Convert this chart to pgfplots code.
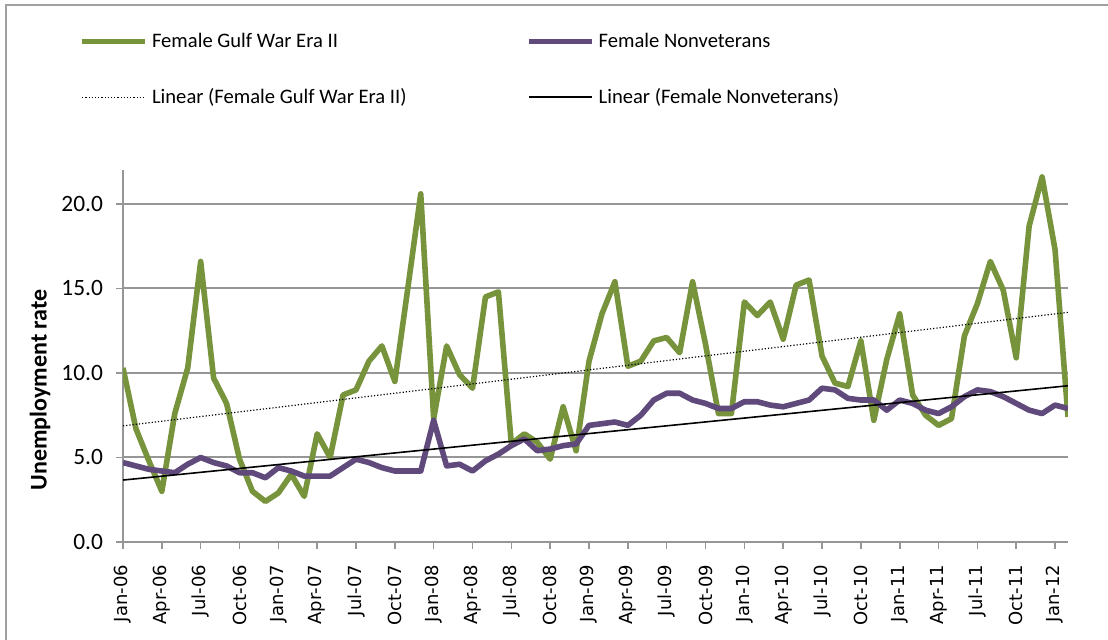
\documentclass[border=0pt]{standalone}
\usepackage{fontspec}
\setmainfont{Carlito}
\newfontfamily\dejavu{DejaVu Sans}
\usepackage{pgfplots}
\usepackage{pgfplotstable}
\pgfplotsset{compat=1.18}
\definecolor{gwgreen}{RGB}{119,147,60}
\definecolor{nvpurple}{RGB}{96,74,123}
\definecolor{axgray}{RGB}{150,150,150}
\definecolor{bordergray}{RGB}{160,160,160}

\pgfplotstableread{
i gw nv
0 10.3 4.7
1 6.7 4.5
2 4.8 4.3
3 3.0 4.2
4 7.6 4.1
5 10.3 4.6
6 16.6 5.0
7 9.7 4.7
8 8.2 4.5
9 4.9 4.1
10 3.0 4.1
11 2.4 3.8
12 2.9 4.4
13 4.0 4.2
14 2.7 3.9
15 6.4 3.9
16 5.0 3.9
17 8.7 4.4
18 9.0 4.9
19 10.7 4.7
20 11.6 4.4
21 9.5 4.2
22 15.0 4.2
23 20.6 4.2
24 7.3 7.2
25 11.6 4.5
26 9.9 4.6
27 9.1 4.2
28 14.5 4.8
29 14.8 5.2
30 5.8 5.7
31 6.4 6.1
32 5.9 5.4
33 4.9 5.5
34 8.0 5.7
35 5.4 5.8
36 10.7 6.9
37 13.5 7.0
38 15.4 7.1
39 10.4 6.9
40 10.7 7.5
41 11.9 8.4
42 12.1 8.8
43 11.2 8.8
44 15.4 8.4
45 11.7 8.2
46 7.6 7.9
47 7.6 7.9
48 14.2 8.3
49 13.4 8.3
50 14.2 8.1
51 12.0 8.0
52 15.2 8.2
53 15.5 8.4
54 11.0 9.1
55 9.4 9.0
56 9.2 8.5
57 11.9 8.4
58 7.2 8.4
59 10.8 7.8
60 13.5 8.4
61 8.7 8.2
62 7.5 7.8
63 6.9 7.6
64 7.3 8.0
65 12.2 8.6
66 14.1 9.0
67 16.6 8.9
68 14.9 8.6
69 10.9 8.2
70 18.7 7.8
71 21.6 7.6
72 17.3 8.1
73 7.4 7.9
}\data

\begin{document}
\begin{tikzpicture}
\useasboundingbox (0,0) rectangle (554pt,320pt);
\draw[bordergray, line width=1pt] (3pt,0pt) -- (3pt,317.5pt) -- (554pt,317.5pt);
\begin{axis}[
  at={(61.5pt,49pt)}, anchor=south west,
  scale only axis,
  width=472.5pt, height=185.9pt,
  xmin=0, xmax=73, ymin=0, ymax=22,
  enlargelimits=false,
  axis x line*=bottom, axis y line*=left,
  axis line style={axgray, line width=1pt, -},
  tick align=outside,
  major tick length=3.5pt,
  tick style={axgray, line width=0.8pt},
  xtick={0,3,...,72},
  xticklabels={Jan-06,Apr-06,Jul-06,Oct-06,Jan-07,Apr-07,Jul-07,Oct-07,Jan-08,Apr-08,Jul-08,Oct-08,Jan-09,Apr-09,Jul-09,Oct-09,Jan-10,Apr-10,Jul-10,Oct-10,Jan-11,Apr-11,Jul-11,Oct-11,Jan-12},
  xticklabel style={font=\dejavu\fontsize{9}{10}\selectfont, rotate=90, anchor=east},
  xticklabel shift=4.5pt,
  ytick={0,5,10,15,20},
  yticklabel style={font=\fontsize{11.7}{13}\selectfont, xshift=-3pt},
  /pgf/number format/.cd, fixed, fixed zerofill, precision=1, assume math mode=true,
  /pgfplots/.cd,
  ymajorgrids,
  grid style={axgray, line width=1pt},
  every axis y label/.style={at={(axis description cs:-0.0878,0.409)}, anchor=center, rotate=90, font=\bfseries\fontsize{12}{14}\selectfont},
  ylabel={Unemployment rate},
  legend columns=2,
  legend cell align=left,
  legend style={at={(axis description cs:-0.0465,1.381)}, anchor=north west, draw=none, fill=none, inner sep=0pt,
    font=\fontsize{10.3}{12}\selectfont,
    /tikz/every even column/.append style={column sep=0pt},
    row sep=15pt},
  legend image code/.code={\draw[#1] (0pt,0pt) -- (31.5pt,0pt);},
]
\addplot[gwgreen, line width=2.8pt, line join=round] table[x=i, y=gw] {\data};
\addlegendentry{\makebox[185pt][l]{Female Gulf War Era II}}
\addplot[nvpurple, line width=2.8pt, line join=round] table[x=i, y=nv] {\data};
\addlegendentry{Female Nonveterans}
\addplot[black, line width=0.6pt, densely dotted] table[x=i, y={create col/linear regression={y=gw}}] {\data};
\addlegendentry{\makebox[185pt][l]{Linear (Female Gulf War Era II)}}
\addplot[black, line width=0.8pt] table[x=i, y={create col/linear regression={y=nv}}] {\data};
\addlegendentry{Linear (Female Nonveterans)}
\end{axis}
\end{tikzpicture}
\end{document}
